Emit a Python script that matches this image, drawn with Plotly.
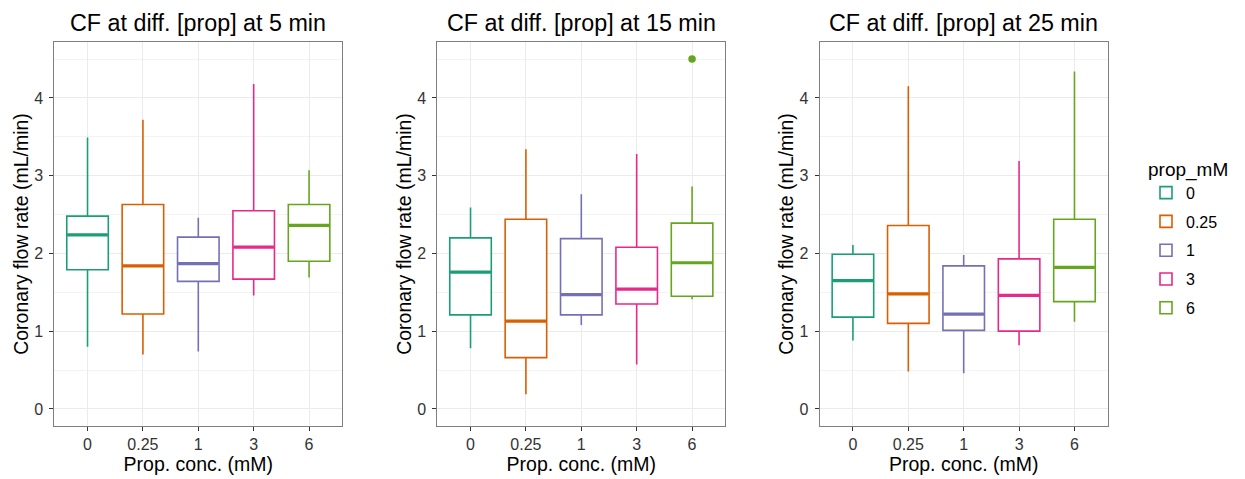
import plotly.graph_objects as go

categories = ["0", "0.25", "1", "3", "6"]
colors = ["#1B9E77", "#D95F02", "#7570B3", "#E7298A", "#66A61E"]
titles = ["CF at diff. [prop] at 5 min", "CF at diff. [prop] at 15 min", "CF at diff. [prop] at 25 min"]

# per panel: lower whisker, q1, median, q3, upper whisker (per category)
low_5 = [0.80, 0.70, 0.74, 1.46, 1.69]
q1_5 = [1.79, 1.22, 1.64, 1.67, 1.90]
med_5 = [2.24, 1.84, 1.87, 2.08, 2.36]
q3_5 = [2.48, 2.63, 2.21, 2.55, 2.63]
up_5 = [3.49, 3.72, 2.46, 4.18, 3.07]

low_15 = [0.78, 0.19, 1.08, 0.57, 1.41]
q1_15 = [1.21, 0.66, 1.21, 1.35, 1.45]
med_15 = [1.76, 1.13, 1.47, 1.54, 1.88]
q3_15 = [2.20, 2.44, 2.19, 2.08, 2.39]
up_15 = [2.59, 3.34, 2.76, 3.28, 2.86]

low_25 = [0.88, 0.48, 0.46, 0.82, 1.12]
q1_25 = [1.18, 1.10, 1.01, 1.00, 1.38]
med_25 = [1.65, 1.48, 1.22, 1.46, 1.82]
q3_25 = [1.99, 2.36, 1.84, 1.93, 2.44]
up_25 = [2.11, 4.15, 1.98, 3.19, 4.34]

# outliers: (panel index, category, value)
outlier_panel = [1]
outlier_cat = ["6"]
outlier_val = [4.50]

panels = [
    (low_5, q1_5, med_5, q3_5, up_5),
    (low_15, q1_15, med_15, q3_15, up_15),
    (low_25, q1_25, med_25, q3_25, up_25),
]

W, H = 1245, 479
x_px = [(54.3, 342.3), (437.3, 725.3), (819.7, 1107.7)]
y_dom = [1 - 426 / H, 1 - 42 / H]

fig = go.Figure()
FONT = "Liberation Sans, Arial, sans-serif"

for p, (lo, q1, md, q3, up) in enumerate(panels):
    xa = "x" if p == 0 else f"x{p+1}"
    ya = "y" if p == 0 else f"y{p+1}"
    for i, c in enumerate(categories):
        fig.add_trace(go.Box(
            x=[c], q1=[q1[i]], median=[md[i]], q3=[q3[i]],
            lowerfence=[lo[i]], upperfence=[up[i]],
            name=c, legendgroup=c, showlegend=(p == 0),
            line=dict(color=colors[i], width=1.6), fillcolor="white",
            width=0.75, whiskerwidth=0, boxpoints=False,
            xaxis=xa, yaxis=ya, hoverinfo="skip",
        ))
        # thicker median line
        fig.add_trace(go.Box(
            x=[c], q1=[md[i]], median=[md[i]], q3=[md[i]],
            lowerfence=[md[i]], upperfence=[md[i]],
            name=c, legendgroup=c, showlegend=False,
            line=dict(color=colors[i], width=3.2), fillcolor="rgba(0,0,0,0)",
            width=0.73, whiskerwidth=0, boxpoints=False,
            xaxis=xa, yaxis=ya, hoverinfo="skip",
        ))

for k in range(len(outlier_panel)):
    p = outlier_panel[k]
    ci = categories.index(outlier_cat[k])
    fig.add_trace(go.Scatter(
        x=[outlier_cat[k]], y=[outlier_val[k]], mode="markers",
        marker=dict(color=colors[ci], size=7.5),
        showlegend=False, xaxis=f"x{p+1}" if p else "x", yaxis=f"y{p+1}" if p else "y",
    ))

layout = dict(
    width=W, height=H, margin=dict(l=0, r=0, t=0, b=0, autoexpand=False),
    paper_bgcolor="white", plot_bgcolor="white",
    boxmode="overlay", font=dict(family=FONT, color="black"),
    legend=dict(
        title=dict(text="prop_mM", font=dict(size=19, family=FONT)),
        font=dict(size=16, family=FONT), x=1146 / W, y=1 - 151 / H,
        xanchor="left", yanchor="top", tracegroupgap=5, itemwidth=30,
    ),
    annotations=[],
)
for p in range(3):
    suffix = "" if p == 0 else str(p + 1)
    x0, x1 = x_px[p]
    layout[f"xaxis{suffix}"] = dict(
        domain=[x0 / W, x1 / W], anchor=f"y{suffix}", automargin=False,
        type="category", categoryorder="array", categoryarray=categories,
        range=[-0.6, 4.6],
        showgrid=True, gridcolor="#EBEBEB", gridwidth=1,
        showline=True, mirror=True, linecolor="#7F7F7F", linewidth=1,
        ticks="outside", ticklen=4, tickcolor="#333333",
        tickfont=dict(size=16, color="#333333", family=FONT),
        title=dict(text="Prop. conc. (mM)", font=dict(size=19.5, family=FONT), standoff=2),
        zeroline=False, fixedrange=True,
    )
    layout[f"yaxis{suffix}"] = dict(
        domain=y_dom, anchor=f"x{suffix}", automargin=False,
        range=[-0.22, 4.72], dtick=1, tick0=0,
        showgrid=True, gridcolor="#EBEBEB", gridwidth=1.2,
        minor=dict(dtick=0.5, tick0=0, showgrid=True, gridcolor="#F3F3F3", gridwidth=0.7, ticks=""),
        showline=True, mirror=True, linecolor="#7F7F7F", linewidth=1,
        ticks="outside", ticklen=4, tickcolor="#333333", ticklabelstandoff=3,
        tickfont=dict(size=16, color="#333333", family=FONT),
        title=dict(text="Coronary flow rate (mL/min)", font=dict(size=19.5, family=FONT), standoff=0),
        zeroline=False, fixedrange=True,
    )
    layout["annotations"].append(dict(
        text=titles[p], x=(x0 + x1) / 2 / W, y=1 - 23 / H, xref="paper", yref="paper",
        xanchor="center", yanchor="middle", showarrow=False,
        font=dict(size=23.3, family=FONT, color="black"),
    ))

fig.update_layout(**layout)
fig.write_html("out.html", config={"displayModeBar": False},
               post_script="document.body.style.margin='0px';")
